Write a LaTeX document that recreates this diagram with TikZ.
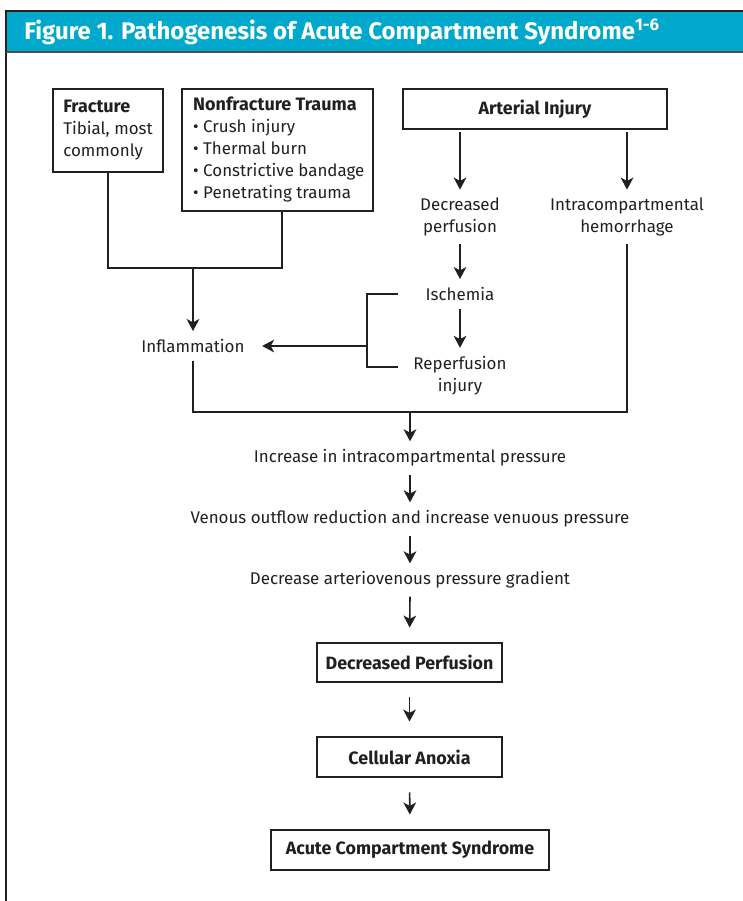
\documentclass[tikz,border=0pt]{standalone}
\usepackage{fontspec}
\setmainfont{Fira Sans}
\usetikzlibrary{arrows.meta,positioning,calc}
\definecolor{headcyan}{HTML}{00A9CB}
\definecolor{ink}{HTML}{231F20}

\begin{document}
\begin{tikzpicture}[
    x=0.75pt, y=-0.75pt,
    box/.style={draw=ink, line width=1.2pt, text=ink, font=\fontsize{12.7}{16.5}\selectfont, inner sep=0pt},
    hbox/.style={box, font=\bfseries\fontsize{13.4}{16.5}\selectfont},
    lbl/.style={text=ink, font=\fontsize{12.7}{16.5}\selectfont, align=center, inner sep=6pt},
    ln/.style={draw=ink, line width=1.2pt},
    arr/.style={-{Stealth[length=9pt,width=9.5pt,inset=2.5pt]}, draw=ink, line width=1.2pt},
  ]
  \useasboundingbox (0,0) rectangle (743,901);
  % frame and title band
  \fill[headcyan] (6,11) rectangle (743,52);
  \draw[ink, line width=1pt] (743,11) -- (6,11) -- (6,901);
  \draw[ink!80, line width=1pt] (6,52) -- (743,52);
  \node[anchor=base west, text=white, inner sep=0pt, font=\bfseries\fontsize{18}{20}\selectfont] (title) at (24,39)
    {Figure 1. Pathogenesis of Acute Compartment Syndrome\textsuperscript{1-6}};

  % causes
  \node[box, minimum width=82.5pt, minimum height=62.25pt, align=left] (frac) at (108,130.5)
    {{\bfseries\fontsize{13.5}{16.5}\selectfont Fracture}\\Tibial, most\\commonly};
  \node[box, minimum width=143.25pt, minimum height=91.5pt, align=left] (nonfr) at (277.5,150)
    {\hspace*{2pt}\begin{tabular}{@{}l@{}}{\bfseries\fontsize{13.5}{16.5}\selectfont Nonfracture Trauma}\\\textbullet\ Crush injury\\\textbullet\ Thermal burn\\\textbullet\ Constrictive bandage\\\textbullet\ Penetrating trauma\end{tabular}};
  \node[hbox, minimum width=198pt, minimum height=30pt] (art) at (535,109) {Arterial Injury};

  \node[lbl] (dec) at (460,217) {Decreased\\perfusion};
  \node[lbl] (hem) at (627,217) {Intracompartmental\\hemorrhage};
  \node[lbl] (isch) at (460,294) {Ischemia};
  \node[lbl] (rep) at (460,375.5) {Reperfusion\\injury};
  \node[lbl] (infl) at (193,346) {Inflammation};

  % main chain
  \node[lbl] (inc) at (410,458) {Increase in intracompartmental pressure};
  \node[lbl] (ven) at (410,519) {Venous outflow reduction and increase venuous pressure};
  \node[lbl] (grad) at (410,580) {Decrease arteriovenous pressure gradient};
  \node[hbox, minimum width=138.75pt, minimum height=29.25pt] (dp) at (409.5,662.5) {Decreased Perfusion};
  \node[hbox, minimum width=138.75pt, minimum height=30pt] (ca) at (409.5,757) {Cellular Anoxia};
  \node[hbox, minimum width=208.5pt, minimum height=30pt] (acs) at (410,850) {Acute Compartment Syndrome};

  \coordinate (j1) at (193,268);
  \coordinate (j2) at (410,412);
  \coordinate (bkt) at (398,294);
  \coordinate (bkm) at (367,346);
  \coordinate (bkb) at (398,367);

  \draw[ln] (frac.south) |- (j1) -| ([xshift=3.4pt]nonfr.south);
  \draw[arr] (j1) -- (infl.north);
  \draw[arr] ([yshift=-1.5pt]art.south -| dec.north) -- (dec.north);
  \draw[arr] ([yshift=-1.5pt]art.south -| hem.north) -- (hem.north);
  \draw[arr] (dec.south) -- (isch.north);
  \draw[arr] (isch.south) -- (rep.north);
  \draw[ln] (bkt) -| (bkm) |- (bkb);
  \draw[arr, shorten >=7pt] (bkm) -- (infl.east);
  \draw[ln] (infl.south) |- (j2) -| (hem.south);
  \draw[arr] (j2) -- (inc.north);
  \draw[arr] (inc.south) -- (ven.north);
  \draw[arr] (ven.south) -- (grad.north);
  \draw[arr, shorten >=11pt] (grad.south) -- (dp.north);
  \draw[arr, shorten <=11pt, shorten >=11pt] (dp.south) -- (ca.north);
  \draw[arr, shorten <=11pt, shorten >=11pt] (ca.south) -- (acs.north);
\end{tikzpicture}
\end{document}
